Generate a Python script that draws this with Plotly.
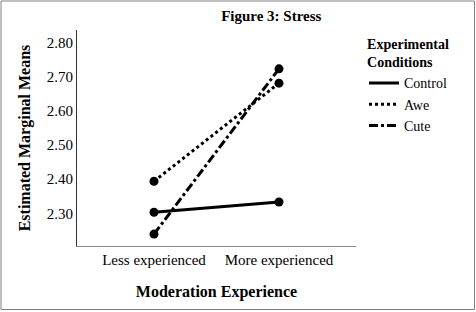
import plotly.graph_objects as go

categories = ["Less experienced", "More experienced"]
control = [2.303, 2.333]
awe = [2.394, 2.682]
cute = [2.239, 2.724]
y_ticks = [2.30, 2.40, 2.50, 2.60, 2.70, 2.80]
y_tick_labels = ["2.30", "2.40", "2.50", "2.60", "2.70", "2.80"]

series = [("Control", control, "solid"), ("Awe", awe, "dot"), ("Cute", cute, "dashdot")]

FONT = "Liberation Serif, Times New Roman, serif"

fig = go.Figure()
for name, vals, dash in series:
    fig.add_trace(go.Scatter(x=[0, 1], y=vals, mode="lines", name=name,
                             line=dict(color="black", width=3, dash=dash)))
for name, vals, dash in series:
    fig.add_trace(go.Scatter(x=[0, 1], y=vals, mode="markers", showlegend=False,
                             marker=dict(color="black", size=9)))

L, R, T, B = 77, 120, 30, 66
W, H = 476, 312
pw, ph = W - L - R, H - T - B

def px(x):
    return (x - L) / pw

def py(y):
    return (H - B - y) / ph

fig.add_shape(type="rect", xref="paper", yref="paper",
              x0=px(1), x1=px(474.5), y0=py(309.5), y1=py(1),
              line=dict(color="#808080", width=1), layer="below")

fig.update_layout(
    width=W, height=H,
    margin=dict(l=L, r=R, t=T, b=B, autoexpand=False),
    paper_bgcolor="white", plot_bgcolor="white",
    font=dict(family=FONT, size=15, color="black"),
    title=dict(text="<b>Figure 3: Stress</b>", x=px(236), xanchor="center",
               y=1 - 16 / H, yanchor="middle", font=dict(family=FONT, size=15)),
    xaxis=dict(range=[-0.616, 1.616], tickvals=[0, 1], ticktext=categories,
               showgrid=False, zeroline=False, showline=True, linecolor="#888888",
               linewidth=1, ticks="", ticklen=0, automargin=False,
               tickfont=dict(family=FONT, size=15),
               title=dict(text="<b>Moderation Experience</b>",
                          font=dict(family=FONT, size=16), standoff=18)),
    yaxis=dict(range=[2.204, 2.838], tickvals=y_ticks, ticktext=y_tick_labels,
               showgrid=False, zeroline=False, showline=True, linecolor="#333333",
               linewidth=1, ticks="", ticklen=0, automargin=False,
               tickfont=dict(family=FONT, size=15),
               title=dict(text="<b>Estimated Marginal Means</b>",
                          font=dict(family=FONT, size=16), standoff=12)),
    legend=dict(x=px(364), y=py(31), xanchor="left", yanchor="top",
                title=dict(text="<b>Experimental<br>Conditions</b>", side="top center",
                           font=dict(family=FONT, size=14)),
                font=dict(family=FONT, size=14), bgcolor="rgba(0,0,0,0)", tracegroupgap=0,
                itemwidth=30),
)

fig.write_html("out.html", post_script="document.body.style.margin='0';",
               config={"displayModeBar": False})
